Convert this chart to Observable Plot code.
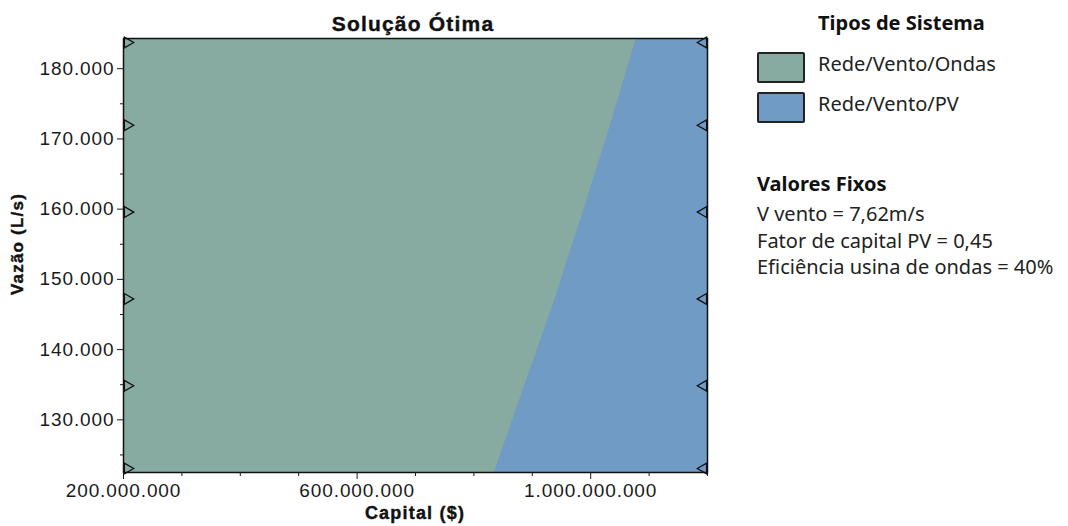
<!DOCTYPE html>
<html>
<head>
<meta charset="utf-8">
<script src="https://cdn.jsdelivr.net/npm/d3@7"></script>
<script src="https://cdn.jsdelivr.net/npm/@observablehq/plot@0.6"></script>
<style>
  body { margin: 0; background: white; }
  #wrap { position: relative; width: 1068px; height: 526px; overflow: hidden; }
  .t { position: absolute; white-space: nowrap; line-height: 1; color: #111; }
  .dv { font-family: "Liberation Sans", Arial, sans-serif; font-weight: bold; letter-spacing: 1.2px; -webkit-text-stroke: 0.4px #111; }
  .ns { font-family: "Noto Sans", sans-serif; font-size: 20px; color: #222; }
  .sw { position: absolute; width: 44px; height: 27px; border: 2px solid #222; border-radius: 2px; }
  svg text { letter-spacing: 0.9px; }
</style>
</head>
<body>
<div id="wrap"></div>
<script>
// ---- data ----
const capitalDominio = [200e6, 1200e6];
const vazaoDominio = [122500, 184300];
const vazao = [122500, 134860, 147220, 159580, 171940, 184300];
const fronteira = [835e6, 887e6, 939e6, 987e6, 1034e6, 1078e6];
const sistemas = ["Rede/Vento/Ondas", "Rede/Vento/PV"];
const cores = ["#88aba1", "#6f9bc5"];
const xTicks = [200e6, 600e6, 1000e6];
const xMinor = [300e6, 400e6, 500e6, 700e6, 800e6, 900e6, 1100e6, 1200e6];
const yTicks = [130000, 140000, 150000, 160000, 170000, 180000];
const yMinor = [125000, 135000, 145000, 155000, 165000, 175000];
const titulo = "Solução Ótima";
const tituloX = "Capital ($)";
const tituloY = "Vazão (L/s)";
const tituloLegenda = "Tipos de Sistema";
const tituloFixos = "Valores Fixos";
const valoresFixos = ["V vento = 7,62m/s", "Fator de capital PV = 0,45", "Eficiência usina de ondas = 40%"];

const loc = d3.formatLocale({decimal: ",", thousands: ".", grouping: [3], currency: ["$", ""]});
const fmt = loc.format(",d");

const rows = vazao.map((v, i) => ({v, f: fronteira[i], a: capitalDominio[0], b: capitalDominio[1]}));
const midRows = rows.slice(1, -1);
const topRows = rows.slice(-1);
const botRows = rows.slice(0, 1);

const tri = {symbol: "triangle", r: 4, stroke: "#111", fill: "none", strokeWidth: 1.3};

const chart = Plot.plot({
  width: 1068,
  height: 526,
  marginLeft: 123,
  marginRight: 361,
  marginTop: 38,
  marginBottom: 54,
  x: {domain: capitalDominio, label: null},
  y: {domain: vazaoDominio, label: null},
  style: {fontFamily: "'Liberation Sans', Arial, sans-serif", fontSize: "19px", color: "#1a1a1a", background: "white"},
  marks: [
    Plot.areaX(rows, {y: "v", x1: "a", x2: "b", fill: cores[0]}),
    Plot.areaX(rows, {y: "v", x1: "f", x2: "b", fill: cores[1]}),
    Plot.dot(midRows, {...tri, x: "a", y: "v", rotate: 90, dx: 4}),
    Plot.dot(midRows, {...tri, x: "b", y: "v", rotate: -90, dx: -4}),
    Plot.dot(topRows, {...tri, x: "a", y: "v", rotate: 90, dx: 4, dy: 4}),
    Plot.dot(topRows, {...tri, x: "b", y: "v", rotate: -90, dx: -4, dy: 4}),
    Plot.dot(botRows, {...tri, x: "a", y: "v", rotate: 90, dx: 4, dy: -4}),
    Plot.dot(botRows, {...tri, x: "b", y: "v", rotate: -90, dx: -4, dy: -4}),
    Plot.frame({stroke: "#111", strokeWidth: 1.5}),
    Plot.axisY(yTicks, {tickFormat: fmt, tickSize: 6, tickPadding: 3, label: null, fontSize: 19}),
    Plot.axisY(yMinor, {tickFormat: () => "", tickSize: 3, label: null}),
    Plot.axisX(xTicks, {tickFormat: fmt, tickSize: 7, tickPadding: 4, label: null, fontSize: 19}),
    Plot.axisX(xMinor, {tickFormat: () => "", tickSize: 4, label: null})
  ]
});

const wrap = document.getElementById("wrap");
wrap.appendChild(chart);

function addText(txt, cls, css) {
  const d = document.createElement("div");
  d.className = "t " + cls;
  d.textContent = txt;
  Object.assign(d.style, css);
  wrap.appendChild(d);
  return d;
}
addText(titulo, "dv", {fontSize: "21px", left: "413px", top: "13px", transform: "translateX(-50%)"});
addText(tituloX, "dv", {fontSize: "18px", left: "415px", top: "504px", transform: "translateX(-50%)"});
addText(tituloY, "dv", {fontSize: "17px", left: "17px", top: "244px", transform: "translate(-50%,-50%) rotate(-90deg)"});

addText(tituloLegenda, "ns", {fontWeight: "bold", left: "818px", top: "13px", color: "#111"});
sistemas.forEach((s, i) => {
  const sw = document.createElement("div");
  sw.className = "sw";
  sw.style.left = "757px";
  sw.style.top = (52 + i * 40) + "px";
  sw.style.background = cores[i];
  wrap.appendChild(sw);
  addText(s, "ns", {left: "818px", top: (54 + i * 40) + "px"});
});
addText(tituloFixos, "ns", {fontWeight: "bold", left: "757px", top: "174px", color: "#111"});
valoresFixos.forEach((s, i) => {
  addText(s, "ns", {left: "757px", top: (204 + i * 26.5) + "px"});
});
</script>
</body>
</html>
